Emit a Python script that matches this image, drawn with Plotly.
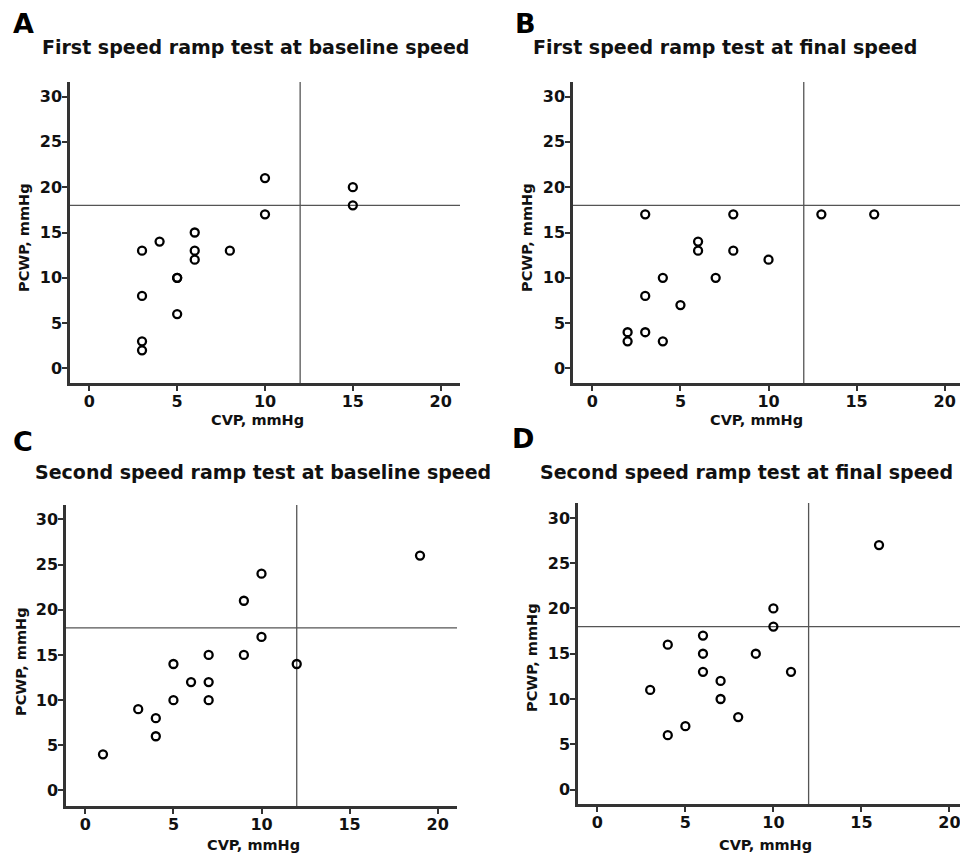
import plotly.graph_objects as go

W, H = 960, 855

# ---- data ----
a_cvp  = [3, 3, 3, 3, 4, 5, 5, 5, 6, 6, 6, 8, 10, 10, 15, 15]
a_pcwp = [13, 8, 3, 2, 14, 10, 10, 6, 15, 13, 12, 13, 21, 17, 20, 18]

b_cvp  = [2, 2, 3, 3, 3, 4, 4, 5, 6, 6, 7, 8, 8, 10, 13, 16]
b_pcwp = [4, 3, 17, 8, 4, 10, 3, 7, 14, 13, 10, 17, 13, 12, 17, 17]

c_cvp  = [1, 3, 4, 4, 5, 5, 6, 7, 7, 7, 9, 9, 10, 10, 12, 19]
c_pcwp = [4, 9, 8, 6, 14, 10, 12, 15, 12, 10, 21, 15, 24, 17, 14, 26]

d_cvp  = [3, 4, 4, 5, 6, 6, 6, 7, 7, 8, 9, 10, 10, 11, 16]
d_pcwp = [11, 16, 6, 7, 17, 15, 13, 12, 10, 8, 15, 20, 18, 13, 27]

titles = ["First speed ramp test at baseline speed",
          "First speed ramp test at final speed",
          "Second speed ramp test at baseline speed",
          "Second speed ramp test at final speed"]
letters = ["A", "B", "C", "D"]
tick_vals_x = [0, 5, 10, 15, 20]
tick_vals_y = [0, 5, 10, 15, 20, 25, 30]
cvp_cut = 12
pcwp_cut = 18

FONT = "DejaVu Sans, Liberation Sans, Arial"

panels = [
    dict(x=a_cvp, y=a_pcwp, l=70, r=460, t=82, b=383, xr=[-1.1, 21.1], yr=[-1.6, 31.6],
         title_xy=(255, 47), letter_xy=(23, 23), ytitle_xy=(24, 238), xtitle_xy=(257, 420)),
    dict(x=b_cvp, y=b_pcwp, l=573, r=960, t=82, b=383, xr=[-1.1, 20.87], yr=[-1.6, 31.6],
         title_xy=(725, 47), letter_xy=(525, 23), ytitle_xy=(527, 238), xtitle_xy=(756, 420)),
    dict(x=c_cvp, y=c_pcwp, l=66, r=457, t=505, b=806, xr=[-1.1, 21.1], yr=[-1.72, 31.6],
         title_xy=(263, 472), letter_xy=(23, 441), ytitle_xy=(21, 662), xtitle_xy=(253, 845)),
    dict(x=d_cvp, y=d_pcwp, l=578, r=960, t=503, b=804, xr=[-1.1, 20.6], yr=[-1.6, 31.65],
         title_xy=(746, 472), letter_xy=(523, 438), ytitle_xy=(532, 658), xtitle_xy=(765, 845)),
]

fig = go.Figure()
annotations = []
shapes = []
tickfont = dict(family=FONT, size=16, color="#111", weight="bold")
for i, p in enumerate(panels):
    n = "" if i == 0 else str(i + 1)
    fig.add_trace(go.Scatter(
        x=p["x"], y=p["y"], mode="markers", xaxis="x" + n, yaxis="y" + n,
        marker=dict(symbol="circle-open", size=8, color="#000", line=dict(width=2.3, color="#000")),
        showlegend=False, hoverinfo="x+y"))
    ax = dict(
        domain=[p["l"] / W, min(p["r"] / W, 1.0)], range=p["xr"], anchor="y" + n,
        tickvals=tick_vals_x, ticks="outside", ticklen=5, tickwidth=1.5, tickcolor="#333",
        ticklabelstandoff=-3, ticklabeloverflow="allow",
        showline=True, linecolor="#333", linewidth=2.5, showgrid=False, zeroline=False,
        tickfont=tickfont, fixedrange=True)
    ay = dict(
        domain=[1 - p["b"] / H, 1 - p["t"] / H], range=p["yr"], anchor="x" + n,
        tickvals=tick_vals_y, ticks="outside", ticklen=5, tickwidth=1.5, tickcolor="#333",
        ticklabelstandoff=-3, ticklabeloverflow="allow",
        showline=True, linecolor="#333", linewidth=2.5, showgrid=False, zeroline=False,
        tickfont=tickfont, fixedrange=True)
    fig.layout["xaxis" + n] = ax
    fig.layout["yaxis" + n] = ay
    shapes.append(dict(type="line", xref="x" + n, yref="y" + n + " domain",
                       x0=cvp_cut, x1=cvp_cut, y0=0, y1=1,
                       line=dict(color="#555", width=1.3), layer="below"))
    shapes.append(dict(type="line", xref="x" + n + " domain", yref="y" + n,
                       x0=0, x1=1, y0=pcwp_cut, y1=pcwp_cut,
                       line=dict(color="#555", width=1.3), layer="below"))
    tx, ty = p["title_xy"]
    annotations.append(dict(text=titles[i], x=tx / W, y=1 - ty / H, xref="paper", yref="paper",
                            showarrow=False, xanchor="center", yanchor="middle",
                            font=dict(family=FONT, size=19, color="#111", weight="bold")))
    lx, ly = p["letter_xy"]
    annotations.append(dict(text=letters[i], x=lx / W, y=1 - ly / H, xref="paper", yref="paper",
                            showarrow=False, xanchor="center", yanchor="middle",
                            font=dict(family=FONT, size=27, color="#000", weight="bold")))
    yx, yy = p["ytitle_xy"]
    annotations.append(dict(text="PCWP, mmHg", x=yx / W, y=1 - yy / H, xref="paper", yref="paper",
                            showarrow=False, xanchor="center", yanchor="middle", textangle=-90,
                            font=dict(family=FONT, size=14.5, color="#111", weight="bold")))
    xx, xy = p["xtitle_xy"]
    annotations.append(dict(text="CVP, mmHg", x=xx / W, y=1 - xy / H, xref="paper", yref="paper",
                            showarrow=False, xanchor="center", yanchor="middle",
                            font=dict(family=FONT, size=14.5, color="#111", weight="bold")))

fig.update_layout(width=W, height=H, margin=dict(l=0, r=0, t=0, b=0),
                  paper_bgcolor="white", plot_bgcolor="white",
                  annotations=annotations, shapes=shapes)
fig.write_html("out.html")
